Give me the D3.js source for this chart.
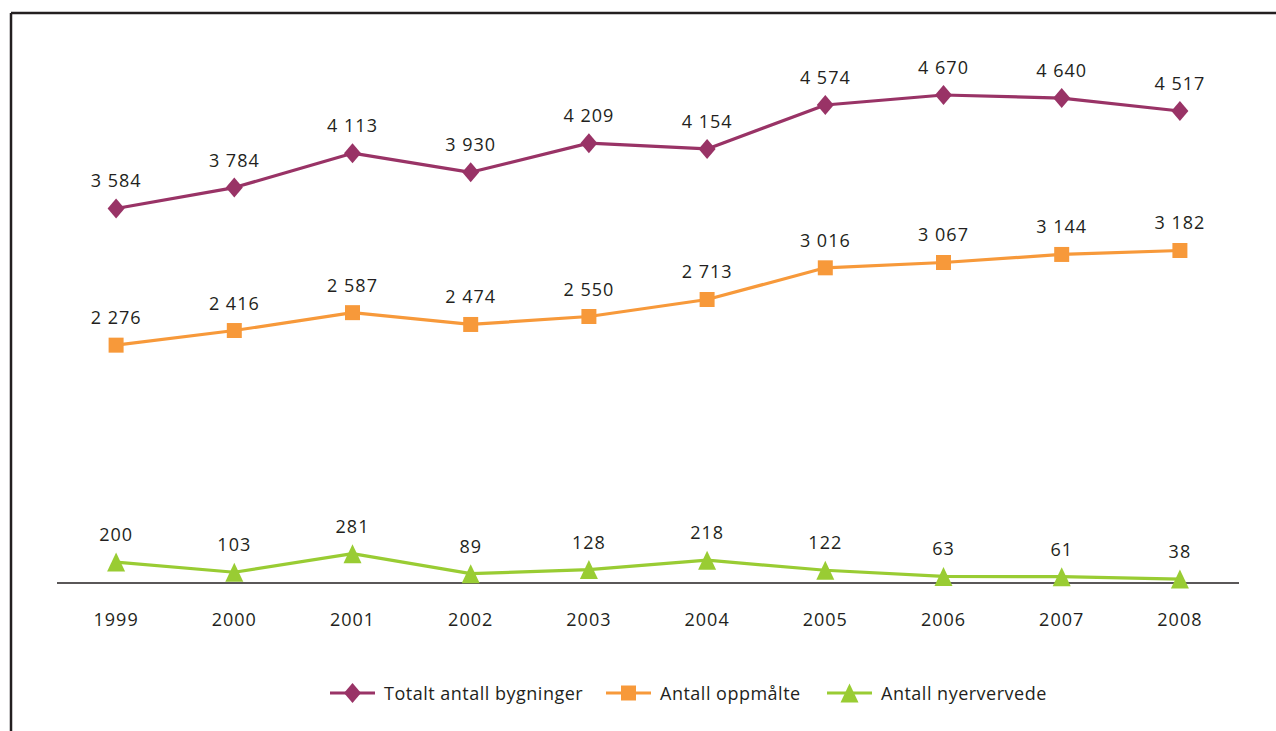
<!DOCTYPE html>
<html>
<head>
<meta charset="utf-8">
<script src="https://cdn.jsdelivr.net/npm/d3@7"></script>
<style>
  html, body { margin: 0; padding: 0; background: #fff; }
  svg { display: block; }
  text { font-family: "Open Sans", "Noto Sans", sans-serif; fill: #231f20; }
</style>
</head>
<body>
<svg id="chart" width="1276" height="731"></svg>
<script>
// Buildings per year, 1999-2008
const years = ["1999", "2000", "2001", "2002", "2003", "2004", "2005", "2006", "2007", "2008"];
const totalt = [3584, 3784, 4113, 3930, 4209, 4154, 4574, 4670, 4640, 4517];
const oppmalte = [2276, 2416, 2587, 2474, 2550, 2713, 3016, 3067, 3144, 3182];
const nyervervede = [200, 103, 281, 89, 128, 218, 122, 63, 61, 38];
const seriesNames = ["Totalt antall bygninger", "Antall oppmålte", "Antall nyervervede"];

const series = [
  { name: seriesNames[0], values: totalt, color: "#993366", symbol: "diamond" },
  { name: seriesNames[1], values: oppmalte, color: "#f7993a", symbol: "square" },
  { name: seriesNames[2], values: nyervervede, color: "#99cc33", symbol: "triangle" }
];

const svg = d3.select("#chart");

// frame (left and top edges visible)
svg.append("line").attr("x1", 11).attr("x2", 11).attr("y1", 13).attr("y2", 731)
  .attr("stroke", "#231f20").attr("stroke-width", 2.5);
svg.append("line").attr("x1", 11).attr("x2", 1276).attr("y1", 13).attr("y2", 13)
  .attr("stroke", "#231f20").attr("stroke-width", 2.5);

const x = d3.scaleBand().domain(years).range([57, 1239]);
const y = d3.scaleLinear().domain([0, 5000]).range([583, 60.5]);
const cx = d => x(d) + x.bandwidth() / 2;

// numbers with a space as thousands separator
const fmt = d3.formatLocale({ decimal: ",", thousands: " ", grouping: [3], currency: ["", " kr"] }).format(",d");

// marker shapes
function markerPath(kind) {
  if (kind === "diamond") return "M0,-10 L8.5,0 L0,10 L-8.5,0 Z";
  if (kind === "square") return "M-7.5,-7.5 H7.5 V7.5 H-7.5 Z";
  return "M0,-9.5 L9,9.5 L-9,9.5 Z";
}

// x axis
const xAxis = svg.append("g").attr("transform", "translate(0,583)")
  .call(d3.axisBottom(x).tickSize(0).tickPadding(0));
xAxis.select(".domain").attr("stroke", "#231f20").attr("stroke-width", 1.5)
  .attr("d", "M57,0H1239");
xAxis.selectAll(".tick text")
  .attr("y", 43).attr("dy", 0)
  .style("font-size", "18px").style("letter-spacing", "1px")
  .style("font-family", "'Open Sans', sans-serif").attr("fill", "#231f20");

const line = d3.line().x((d, i) => cx(years[i])).y(d => y(d));

series.forEach(s => {
  const g = svg.append("g");
  g.append("path").datum(s.values).attr("d", line)
    .attr("fill", "none").attr("stroke", s.color).attr("stroke-width", 3.2)
    .attr("stroke-linejoin", "round");
  g.selectAll("path.m").data(s.values).join("path").attr("class", "m")
    .attr("d", markerPath(s.symbol))
    .attr("transform", (d, i) => `translate(${cx(years[i])},${y(d)})`)
    .attr("fill", s.color);
  g.selectAll("text").data(s.values).join("text")
    .attr("x", (d, i) => cx(years[i]))
    .attr("y", d => y(d) - 21)
    .attr("text-anchor", "middle")
    .style("font-size", "18px").style("letter-spacing", "1px")
    .text(d => fmt(d));
});

// legend
const legendX = [330, 606, 827];
const legend = svg.append("g").attr("transform", "translate(0,693)");
series.forEach((s, i) => {
  const lg = legend.append("g").attr("transform", `translate(${legendX[i]},0)`);
  lg.append("line").attr("x1", 0).attr("x2", 45).attr("y1", 0).attr("y2", 0)
    .attr("stroke", s.color).attr("stroke-width", 3.2);
  lg.append("path").attr("d", markerPath(s.symbol))
    .attr("transform", "translate(22.5,0)").attr("fill", s.color);
  lg.append("text").attr("x", 54).attr("y", 7)
    .style("font-size", "18px").style("letter-spacing", "0.5px")
    .text(s.name);
});
</script>
</body>
</html>
